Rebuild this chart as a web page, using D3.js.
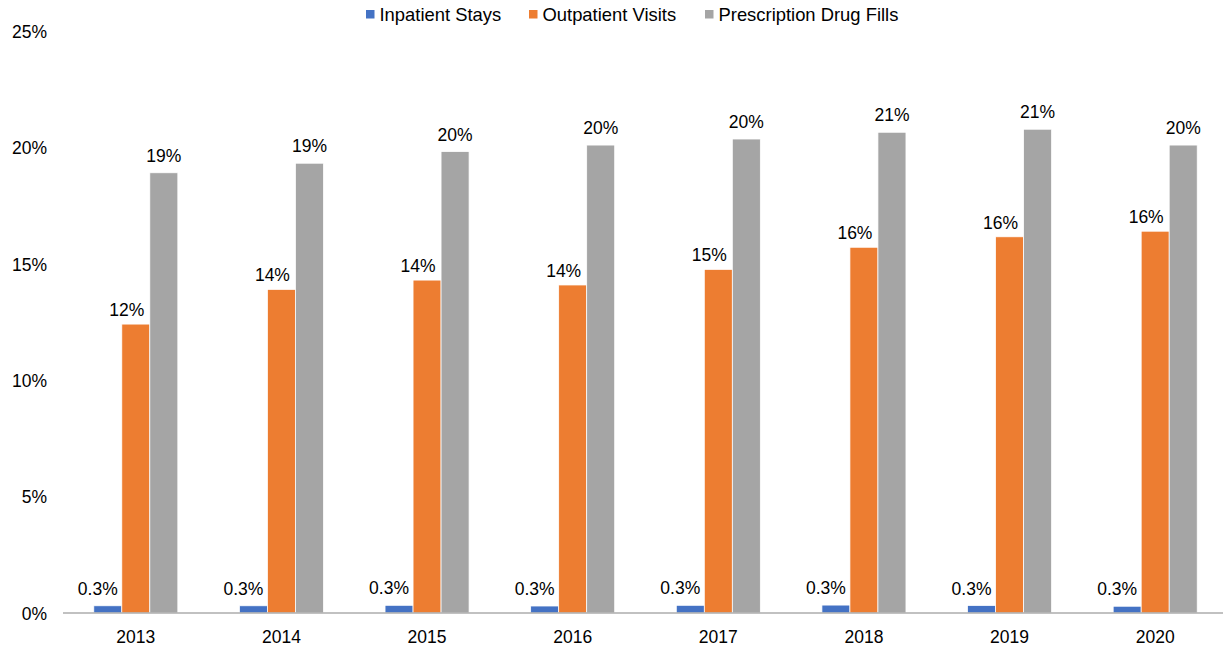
<!DOCTYPE html>
<html>
<head>
<meta charset="utf-8">
<script src="https://cdn.jsdelivr.net/npm/d3@7"></script>
<style>
  html, body { margin: 0; padding: 0; background: #fff; }
  svg { display: block; font-family: "Liberation Sans", Arial, sans-serif; }
</style>
</head>
<body>
<svg id="chart" width="1223" height="646"></svg>
<script>
const years = ["2013", "2014", "2015", "2016", "2017", "2018", "2019", "2020"];
const seriesNames = ["Inpatient Stays", "Outpatient Visits", "Prescription Drug Fills"];
const inpatient = [0.31, 0.31, 0.33, 0.30, 0.33, 0.34, 0.32, 0.29];
const outpatient = [12.41, 13.90, 14.30, 14.09, 14.76, 15.71, 16.16, 16.40];
const prescription = [18.91, 19.32, 19.82, 20.10, 20.36, 20.65, 20.78, 20.10];
const inpatientLabels = ["0.3%", "0.3%", "0.3%", "0.3%", "0.3%", "0.3%", "0.3%", "0.3%"];
const outpatientLabels = ["12%", "14%", "14%", "14%", "15%", "16%", "16%", "16%"];
const prescriptionLabels = ["19%", "19%", "20%", "20%", "20%", "21%", "21%", "20%"];
const yTicks = [0, 5, 10, 15, 20, 25];
const colors = ["#4472C4", "#ED7D31", "#A5A5A5"];

const seriesValues = [inpatient, outpatient, prescription];
const seriesLabels = [inpatientLabels, outpatientLabels, prescriptionLabels];

(function () {
const svg = d3.select("#chart");
const mLeft = 63, mRight = 1228, axisEnd = 1223, mTop = 31, mBottom = 613;

const x0 = d3.scaleBand().domain(years).range([mLeft, mRight]).paddingInner(0.423).paddingOuter(0.2115);
const x1 = d3.scaleBand().domain(seriesNames).range([0, x0.bandwidth()]).padding(0);
const y = d3.scaleLinear().domain([0, 25]).range([mBottom, mTop]);

// Y axis tick labels
const yAxis = d3.axisLeft(y).tickValues(yTicks).tickFormat(d => d + "%").tickSize(0).tickPadding(0);
const gy = svg.append("g").attr("transform", "translate(47,0)").call(yAxis);
gy.select(".domain").remove();
gy.selectAll("text").attr("font-size", 17.5).attr("fill", "#000").attr("font-family", "Liberation Sans, Arial, sans-serif").attr("dy", "0.36em");

// Bars
const rows = years.map((yr, i) => ({ year: yr, i }));
const groups = svg.append("g").selectAll("g").data(rows).join("g")
  .attr("transform", d => `translate(${x0(d.year)},0)`);

groups.selectAll("rect").data(d => seriesNames.map((s, k) => ({ s, k, v: seriesValues[k][d.i] })))
  .join("rect")
  .attr("x", d => x1(d.s))
  .attr("width", x1.bandwidth())
  .attr("y", d => y(d.v))
  .attr("height", d => y(0) - y(d.v))
  .attr("fill", d => colors[d.k])
  .attr("stroke", "#fff")
  .attr("stroke-width", 0.75);

// Data labels
const labelDx = [-10, -9, 0];
const labelGap = [11, 8, 11];
groups.selectAll("text.lbl").data(d => seriesNames.map((s, k) => ({ s, k, v: seriesValues[k][d.i], t: seriesLabels[k][d.i] })))
  .join("text")
  .attr("class", "lbl")
  .attr("x", d => x1(d.s) + x1.bandwidth() / 2 + labelDx[d.k])
  .attr("y", d => y(d.v) - labelGap[d.k])
  .attr("text-anchor", "middle")
  .attr("font-size", 17.5)
  .attr("fill", "#000")
  .text(d => d.t);

// X axis
const xAxis = d3.axisBottom(x0).tickSize(0).tickPadding(0);
const gx = svg.append("g").attr("transform", `translate(0,${mBottom})`).call(xAxis);
gx.select(".domain").attr("stroke", "#ADADAD").attr("stroke-width", 1.5)
  .attr("d", `M${mLeft},0H${axisEnd}`);
gx.selectAll("text").attr("font-size", 17.5).attr("fill", "#000")
  .attr("font-family", "Liberation Sans, Arial, sans-serif").attr("y", 30).attr("dy", 0);

// Legend
const legendX = [366, 529, 705];
const lg = svg.append("g").selectAll("g").data(seriesNames).join("g")
  .attr("transform", (d, k) => `translate(${legendX[k]},0)`);
lg.append("rect").attr("x", 0).attr("y", 10).attr("width", 8.5).attr("height", 8.5).attr("fill", (d, k) => colors[k]);
lg.append("text").attr("x", 13.5).attr("y", 20.5).attr("font-size", 18.4).attr("fill", "#000").text(d => d);
})();
</script>
</body>
</html>
